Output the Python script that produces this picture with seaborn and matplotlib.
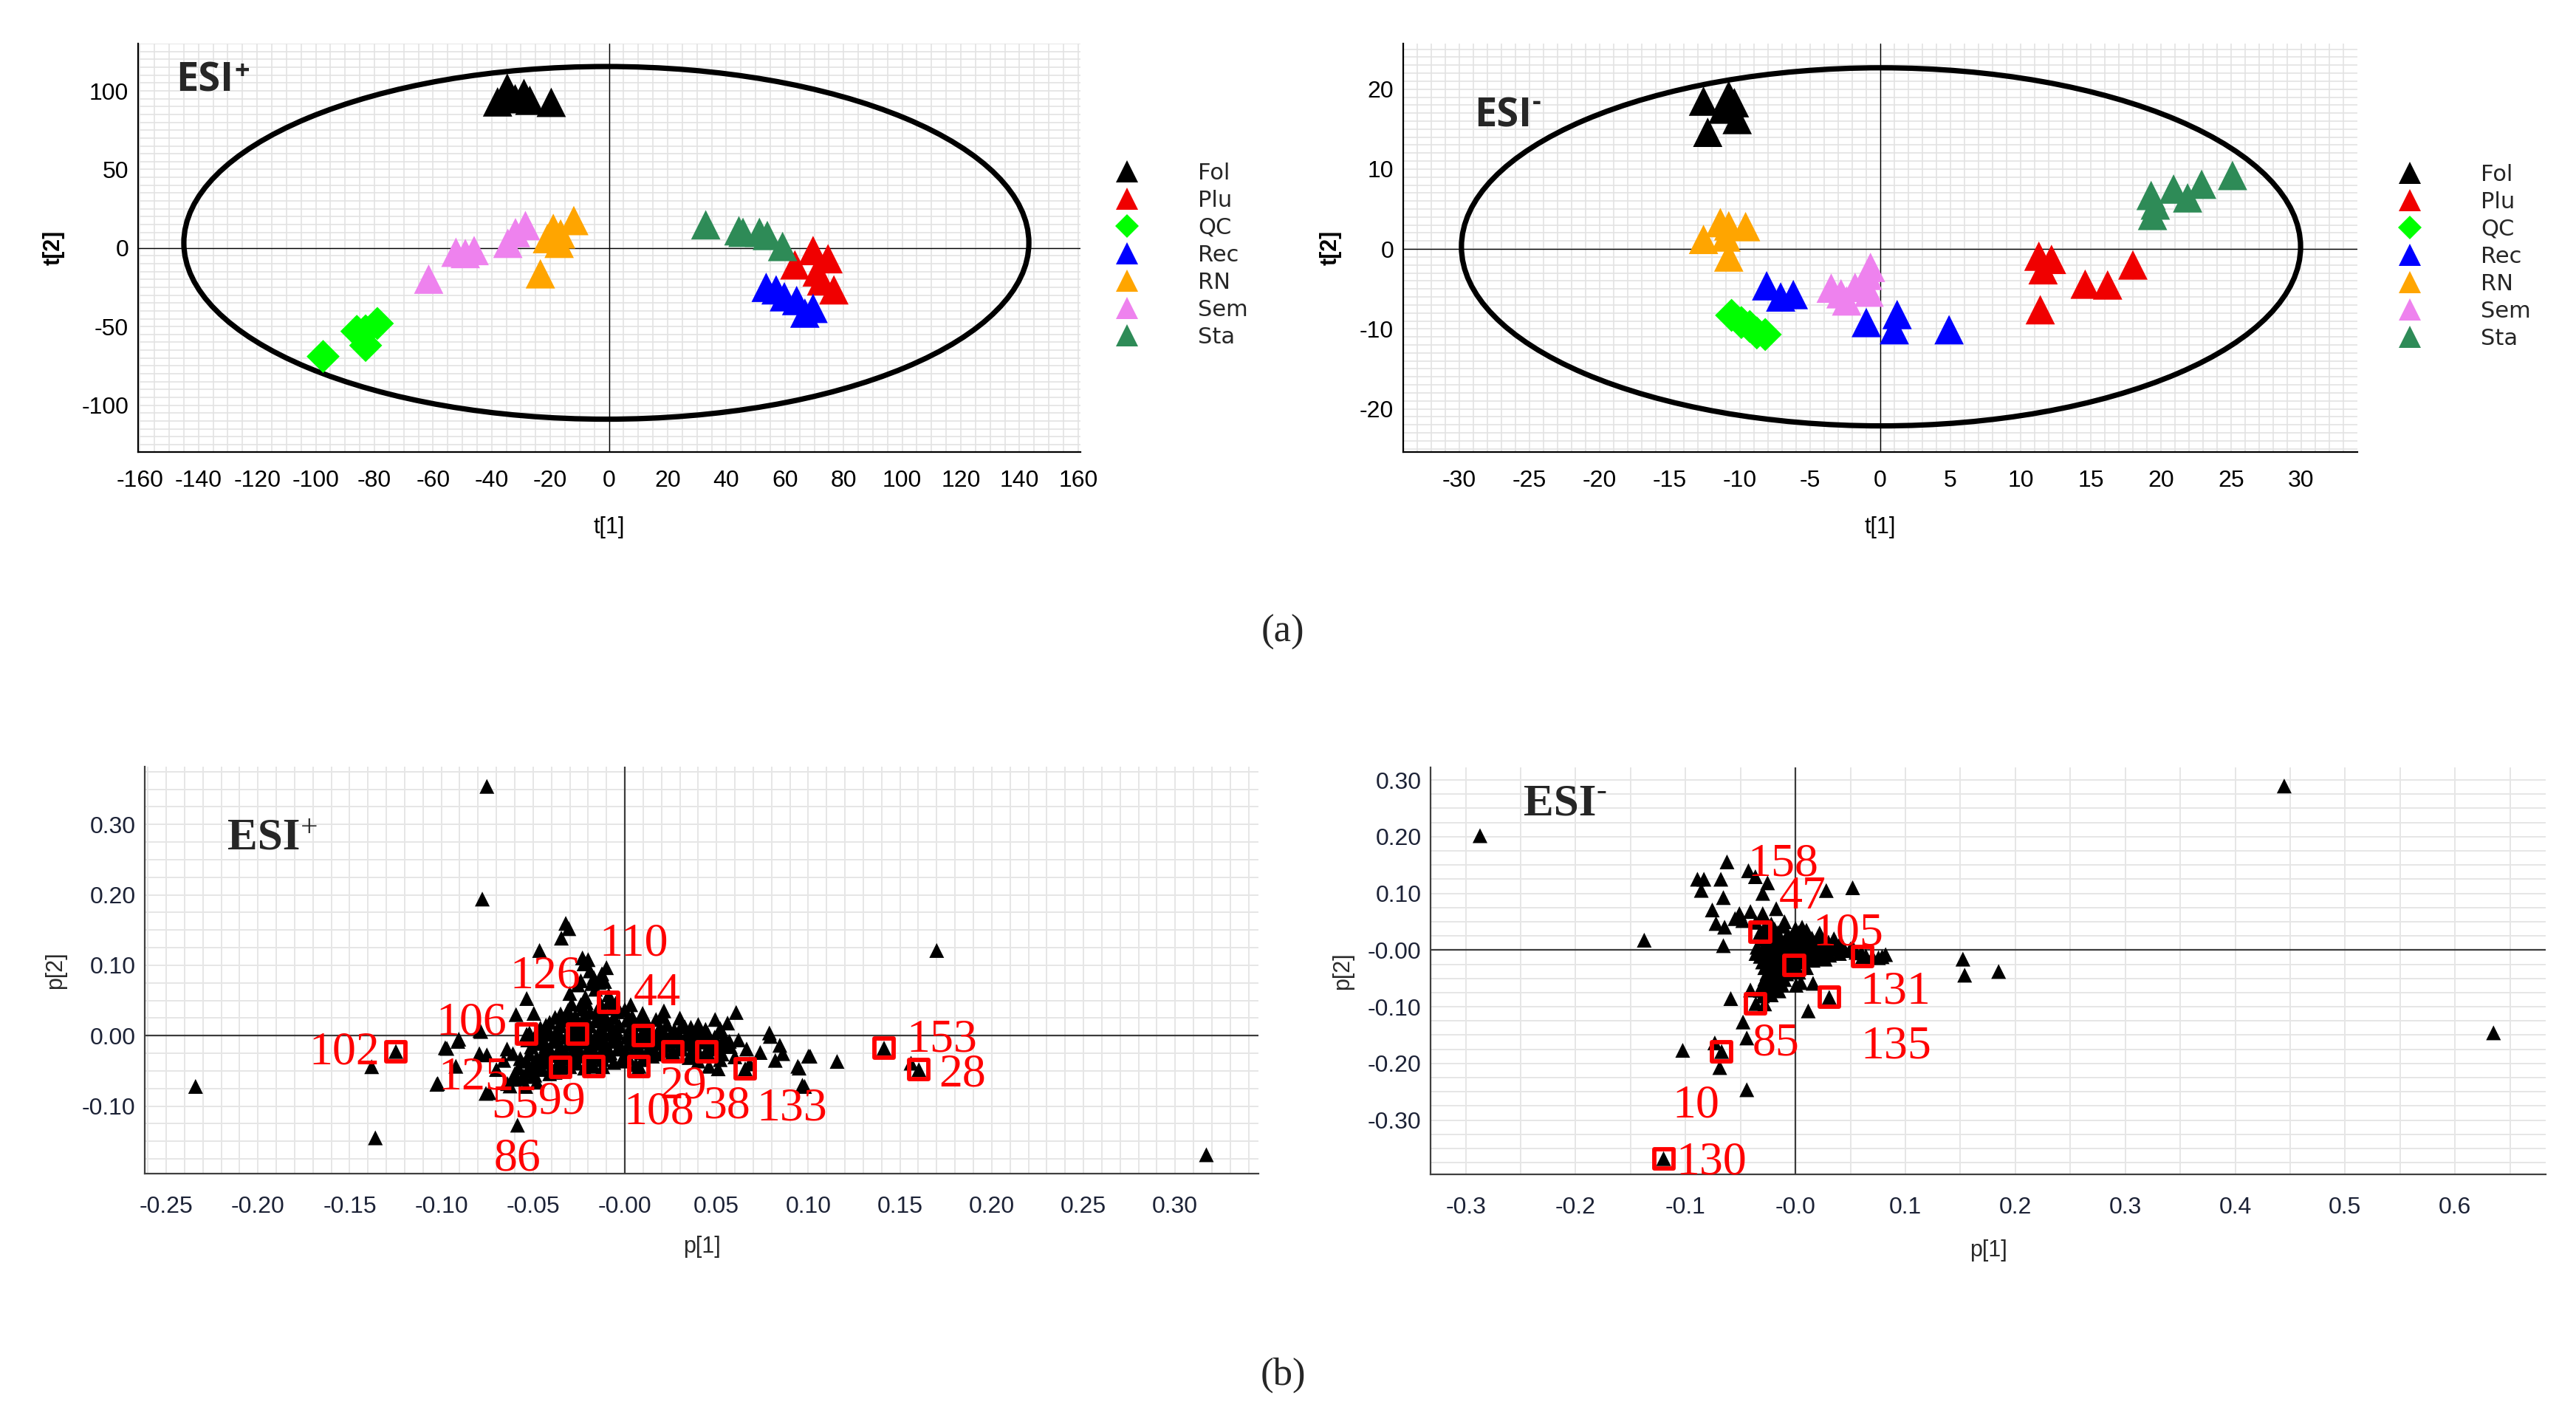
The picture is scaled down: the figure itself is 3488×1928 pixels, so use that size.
import numpy as np
import pandas as pd
import matplotlib
matplotlib.use("Agg")
import matplotlib.pyplot as plt
import seaborn as sns
from matplotlib.patches import Ellipse
from matplotlib.lines import Line2D

# ------------------------------------------------------------------ data
GROUPS = ["Fol", "Plu", "QC", "Rec", "RN", "Sem", "Sta"]
GROUP_COLORS = ["#000000", "#f00000", "#00ff00", "#0000ff", "#ffa500", "#ee82ee", "#2e8b57"]

# (a) ESI+ scores  (t[1], t[2])
pos_fol = [(-38.0, 93.0), (-35.5, 97.0), (-34.7, 101.8), (-32.0, 95.0), (-29.0, 98.4), (-27.0, 94.0), (-19.7, 92.7)]
pos_plu = [(69.6, -1.6), (74.7, -6.8), (63.4, -10.7), (71.0, -15.2), (72.5, -20.9), (76.7, -26.6)]
pos_qc = [(-97.5, -69.0), (-86.0, -53.0), (-83.0, -52.7), (-79.0, -48.0), (-83.0, -62.0)]
pos_rec = [(53.6, -25.0), (57.0, -26.6), (59.8, -31.0), (64.0, -33.4), (66.8, -41.4), (69.6, -38.4)]
pos_rn = [(-12.0, 17.5), (-19.0, 12.5), (-16.5, 9.0), (-21.0, 6.0), (-17.0, 3.0), (-23.4, -16.4)]
pos_sem = [(-28.5, 14.3), (-31.9, 9.8), (-34.5, 3.0), (-46.0, -1.6), (-49.0, -3.5), (-52.2, -2.7), (-61.5, -19.8)]
pos_sta = [(33.0, 14.8), (44.3, 11.0), (45.7, 10.0), (51.3, 10.0), (54.0, 8.0), (59.2, 1.0)]

# (a) ESI- scores
neg_fol = [(-12.6, 18.5), (-10.8, 19.2), (-10.4, 18.3), (-11.2, 17.5), (-10.2, 16.2), (-12.3, 14.6)]
neg_plu = [(11.3, -0.9), (12.2, -1.3), (11.6, -2.6), (14.6, -4.4), (16.2, -4.5), (18.0, -2.0), (11.4, -7.6)]
neg_qc = [(-10.6, -8.3), (-9.9, -9.2), (-9.3, -9.7), (-8.8, -10.5), (-8.2, -10.7)]
neg_rec = [(-8.1, -4.6), (-7.1, -6.0), (-6.2, -5.7), (-1.0, -9.2), (1.2, -8.2), (1.0, -10.1), (4.9, -10.1)]
neg_rn = [(-12.6, 1.2), (-11.4, 3.3), (-10.8, 2.9), (-9.6, 2.8), (-11.0, 1.5), (-10.8, -1.0)]
neg_sem = [(-0.7, -2.3), (-0.9, -3.3), (-3.5, -4.9), (-2.8, -5.6), (-1.8, -4.8), (-0.8, -5.4), (-2.4, -6.5)]
neg_sta = [(19.3, 6.7), (19.4, 4.2), (20.9, 7.5), (21.9, 6.4), (22.9, 8.1), (25.1, 9.2), (19.6, 5.5)]

# Hotelling T2 ellipses (centre x, centre y, semi-axis x, semi-axis y)
pos_ellipse = (-0.9, 3.3, 144.1, 112.2)
neg_ellipse = (0.05, 0.27, 29.9, 22.4)

# (b) ESI+ loadings (p[1], p[2])
pos_load = [
    (-0.0752, 0.354), (-0.0777, 0.194), (0.170, 0.121), (-0.234, -0.072), (-0.138, -0.044),
    (-0.136, -0.145), (0.317, -0.169), (-0.0585, -0.127), (-0.1025, -0.069), (-0.091, -0.008),
    (-0.097, -0.018), (-0.0785, 0.006), (0.1157, -0.0365), (0.101, -0.029), (0.095, -0.046),
    (0.098, -0.072), (0.0793, -0.001), (0.0607, 0.033), (0.156, -0.039), (-0.074, -0.081),
    (-0.0322, 0.1595), (-0.0305, 0.152), (-0.0346, 0.1385), (-0.0465, 0.121), (-0.0231, 0.1105),
    (-0.0200, 0.108), (-0.0223, 0.102), (-0.0100, 0.0966), (-0.0169, 0.0826), (-0.0256, 0.0721),
    (-0.0141, 0.0756), (-0.0215, 0.0546), (-0.0240, 0.0441), (-0.0088, 0.058), (-0.0190, 0.092),
    (-0.0125, 0.088), (-0.0160, 0.066), (-0.0300, 0.060),
    (-0.0535, 0.0528), (-0.0593, 0.030), (-0.0496, 0.0317), (-0.079, 0.0073), (-0.0905, -0.0049),
    (-0.0979, -0.0171), (-0.0793, -0.0255), (-0.0752, -0.0272), (-0.0642, -0.0189), (-0.061, -0.0255),
    (-0.057, -0.0325), (-0.0921, -0.0434), (-0.102, -0.0679), (-0.0757, -0.0819), (-0.0626, -0.0714),
    (-0.0553, -0.057), (-0.052, -0.044), (-0.0455, -0.037), (-0.066, -0.035), (-0.070, -0.048),
    (-0.060, -0.062), (-0.048, -0.066),
    (0.0032, 0.044), (0.0097, 0.0317), (0.0213, 0.0353), (0.0492, 0.0231), (0.0788, 0.0039),
    (0.0845, -0.0136), (0.0861, -0.0255), (0.1001, -0.029), (0.0943, -0.0434), (0.0968, -0.0703),
    (0.0664, -0.0189), (0.0738, -0.0238), (0.0575, -0.0155), (0.0327, 0.0126), (0.0393, 0.0021),
    (0.0459, -0.0434), (0.0509, -0.047), (0.0072, -0.047), (0.052, 0.010), (0.060, -0.030),
    (0.068, -0.040), (0.082, -0.035), (0.056, 0.018),
    (-0.035, 0.031), (-0.027, 0.028), (-0.019, 0.033), (-0.011, 0.029), (-0.004, 0.034), (0.004, 0.027),
    (-0.041, 0.019), (-0.033, 0.022), (-0.024, 0.018), (-0.016, 0.021), (-0.008, 0.017), (0.001, 0.022),
    (0.009, 0.019), (0.017, 0.023),
    (-0.046, 0.011), (-0.037, 0.008), (-0.029, 0.012), (-0.021, 0.009), (-0.013, 0.011), (-0.005, 0.008),
    (0.003, 0.012), (0.011, 0.009), (0.019, 0.011), (0.027, 0.008), (0.036, 0.012), (0.044, 0.009),
    (-0.049, -0.001), (-0.041, 0.002), (-0.032, -0.002), (-0.024, 0.001), (-0.016, -0.001), (-0.008, 0.002),
    (0.001, -0.002), (0.009, 0.001), (0.017, -0.001), (0.025, 0.002), (0.033, -0.002), (0.041, 0.001),
    (0.049, -0.002),
    (-0.047, -0.011), (-0.039, -0.008), (-0.031, -0.012), (-0.023, -0.009), (-0.015, -0.011), (-0.007, -0.008),
    (0.002, -0.012), (0.010, -0.009), (0.018, -0.011), (0.026, -0.008), (0.034, -0.012), (0.042, -0.009),
    (0.050, -0.011), (0.057, -0.008),
    (-0.044, -0.021), (-0.036, -0.019), (-0.028, -0.022), (-0.020, -0.018), (-0.012, -0.021), (-0.004, -0.019),
    (0.005, -0.022), (0.013, -0.018), (0.021, -0.021), (0.031, -0.019), (0.040, -0.022), (0.049, -0.019),
    (-0.048, -0.031), (-0.040, -0.028), (-0.032, -0.032), (-0.024, -0.029), (-0.016, -0.031), (-0.008, -0.028),
    (0.002, -0.032), (0.015, -0.029), (0.035, -0.031), (0.046, -0.028),
    (-0.050, -0.041), (-0.042, -0.038), (-0.034, -0.042), (-0.026, -0.039), (-0.018, -0.041), (-0.006, -0.038),
    (0.006, -0.041), (-0.053, -0.051), (-0.045, -0.048), (-0.038, -0.052), (-0.056, -0.061), (-0.050, -0.058),
    (-0.031, 0.036), (-0.023, 0.038), (-0.015, 0.036), (-0.007, 0.039), (0.000, 0.037),
    (-0.029, 0.045), (-0.021, 0.047), (-0.013, 0.044), (-0.005, 0.046),
    (-0.024, 0.078), (-0.018, 0.074), (-0.011, 0.077),
    (-0.038, 0.026), (-0.030, 0.024), (-0.022, 0.026), (-0.014, 0.024), (-0.006, 0.026), (0.002, 0.024),
    (0.010, 0.026), (0.021, 0.027), (0.030, 0.025),
    (-0.043, 0.015), (-0.035, 0.014), (-0.027, 0.016), (-0.019, 0.014), (-0.011, 0.016), (-0.003, 0.014),
    (0.005, 0.016), (0.013, 0.014), (0.023, 0.016), (0.031, 0.014), (0.040, 0.016),
    (-0.052, 0.004), (-0.044, 0.006), (-0.036, 0.004), (-0.028, 0.006), (-0.020, 0.004), (-0.012, 0.006),
    (-0.004, 0.004), (0.005, 0.006), (0.013, 0.004), (0.021, 0.006), (0.029, 0.004), (0.037, 0.006),
    (0.045, 0.004), (0.053, 0.005),
    (-0.053, -0.006), (-0.045, -0.004), (-0.037, -0.006), (-0.028, -0.004), (-0.020, -0.006), (-0.012, -0.004),
    (-0.004, -0.006), (0.005, -0.004), (0.013, -0.006), (0.021, -0.004), (0.029, -0.006), (0.037, -0.004),
    (0.045, -0.006), (0.054, -0.004), (0.062, -0.006),
    (-0.051, -0.016), (-0.043, -0.014), (-0.035, -0.016), (-0.027, -0.014), (-0.019, -0.016), (-0.011, -0.014),
    (-0.003, -0.016), (0.006, -0.014), (0.014, -0.016), (0.022, -0.014), (0.030, -0.016), (0.038, -0.014),
    (0.046, -0.016), (0.054, -0.014),
    (-0.052, -0.026), (-0.040, -0.024), (-0.032, -0.026), (-0.024, -0.024), (-0.016, -0.026), (-0.008, -0.024),
    (0.001, -0.026), (0.009, -0.024), (0.017, -0.026), (0.026, -0.024), (0.036, -0.026), (0.044, -0.024),
    (0.053, -0.026),
    (-0.054, -0.036), (-0.044, -0.034), (-0.036, -0.036), (-0.028, -0.034), (-0.020, -0.036), (-0.012, -0.034),
    (-0.002, -0.036), (0.010, -0.034), (0.040, -0.036), (0.052, -0.034),
    (-0.058, -0.046), (-0.048, -0.044), (-0.040, -0.046), (-0.030, -0.044), (-0.022, -0.046), (-0.012, -0.044),
    (-0.060, -0.054), (-0.049, -0.056), (-0.041, -0.054), (-0.064, -0.068), (-0.054, -0.072),
]
pos_sel = [(-0.1248, -0.0224), (-0.0535, 0.0021), (-0.0259, 0.0021), (-0.0087, 0.0476), (0.0102, 0.0004),
           (0.0262, -0.0224), (0.0446, -0.0224), (-0.0350, -0.0451), (-0.0170, -0.0434), (0.0078, -0.0434),
           (0.0656, -0.0469), (0.1413, -0.0176), (0.1603, -0.0482)]
pos_lab_text = ["102", "106", "126", "110", "44", "125", "55", "99", "29", "108", "38", "133", "153", "28", "86"]
pos_lab_xy = [(-0.153, -0.0167), (-0.0835, 0.0247), (-0.0434, 0.0906), (0.005, 0.1376), (0.0174, 0.0661),
              (-0.0826, -0.0529), (-0.0599, -0.0930), (-0.0343, -0.0870), (0.0318, -0.0650), (0.0186, -0.1020),
              (0.0558, -0.0935), (0.0909, -0.0970), (0.1727, 0.0012), (0.184, -0.0482), (-0.0587, -0.1682)]

# (b) ESI- loadings
neg_load = [
    (-0.287, 0.2018), (-0.1376, 0.0175), (0.4446, 0.2895), (0.635, -0.146), (0.1523, -0.016),
    (0.1539, -0.0443), (0.1848, -0.0378), (0.052, 0.110), (0.028, 0.105), (-0.1026, -0.1769),
    (-0.0443, -0.2464), (0.0116, -0.1073), (0.0788, -0.0117), (0.0755, -0.0135), (-0.0689, -0.2073),
    (-0.0734, -0.1638), (-0.0443, -0.1551), (-0.0477, -0.1269), (-0.0589, -0.0856), (-0.041, -0.0704),
    (0.0049, -0.0574), (0.016, -0.0587), (0.0006, -0.062),
    (-0.0623, 0.1556), (-0.0428, 0.140), (-0.0892, 0.125), (-0.0833, 0.125), (-0.0679, 0.125),
    (-0.0857, 0.1053), (-0.0365, 0.1295), (-0.0254, 0.1186), (-0.0298, 0.100), (-0.0656, 0.0926),
    (-0.0757, 0.0708), (-0.051, 0.0643), (-0.041, 0.068), (-0.0298, 0.0643), (-0.0175, 0.073),
    (-0.0723, 0.0469), (-0.0645, 0.0404), (-0.055, 0.0555), (-0.0656, 0.0078), (0.006, 0.0404),
    (-0.048, 0.052), (-0.036, 0.049), (-0.022, 0.046), (-0.010, 0.050),
    (-0.028, 0.040), (-0.019, 0.037), (-0.011, 0.042), (0.000, 0.038), (0.010, 0.035),
    (-0.025, 0.029), (-0.016, 0.031), (-0.007, 0.028), (0.003, 0.031), (0.012, 0.027), (0.022, 0.030),
    (-0.030, 0.019), (-0.021, 0.021), (-0.013, 0.018), (-0.004, 0.022), (0.006, 0.019), (0.015, 0.021),
    (0.025, 0.018), (0.035, 0.020),
    (-0.027, 0.009), (-0.018, 0.011), (-0.009, 0.008), (-0.001, 0.011), (0.008, 0.009), (0.018, 0.011),
    (0.028, 0.008), (0.040, 0.010),
    (-0.030, -0.001), (-0.021, 0.001), (-0.012, -0.002), (-0.003, 0.001), (0.006, -0.001), (0.016, 0.002),
    (0.026, -0.002), (0.036, 0.001), (0.045, -0.001),
    (-0.032, -0.011), (-0.023, -0.009), (-0.014, -0.012), (-0.005, -0.009), (0.004, -0.011), (0.013, -0.008),
    (0.022, -0.012), (0.031, -0.009),
    (-0.030, -0.021), (-0.021, -0.019), (-0.012, -0.022), (-0.003, -0.019), (0.006, -0.021), (0.016, -0.018),
    (-0.028, -0.031), (-0.019, -0.029), (-0.010, -0.032), (-0.001, -0.029), (0.010, -0.031),
    (-0.026, -0.041), (-0.017, -0.039), (-0.008, -0.042), (0.003, -0.039),
    (-0.028, -0.051), (-0.019, -0.049), (-0.010, -0.052),
    (-0.030, -0.061), (-0.021, -0.059), (-0.012, -0.062),
    (-0.032, -0.071), (-0.023, -0.069), (-0.015, -0.072),
    (-0.030, -0.081), (-0.022, -0.079), (-0.028, -0.095),
    (0.050, 0.002), (0.060, -0.005), (0.064, -0.010), (0.070, -0.012), (0.082, -0.008),
    (-0.035, 0.005), (-0.025, 0.004), (-0.015, 0.006), (-0.006, 0.004), (0.004, 0.006), (0.013, 0.004),
    (0.023, 0.006), (0.033, 0.004), (0.043, 0.006), (0.052, 0.005),
    (-0.036, -0.006), (-0.027, -0.004), (-0.018, -0.006), (-0.008, -0.004), (0.001, -0.006), (0.010, -0.004),
    (0.020, -0.006), (0.030, -0.004), (0.040, -0.006), (0.055, -0.004),
    (-0.026, 0.015), (-0.017, 0.016), (-0.008, 0.014), (0.001, 0.016), (0.011, 0.014), (0.020, 0.016),
    (0.030, 0.014),
    (-0.027, -0.016), (-0.018, -0.014), (-0.009, -0.016), (0.000, -0.014), (0.009, -0.016), (0.019, -0.014),
    (0.027, -0.016),
    (-0.024, -0.036), (-0.014, -0.034), (-0.004, -0.036), (-0.024, -0.046), (-0.014, -0.044),
    (-0.026, -0.056), (-0.016, -0.054), (-0.027, -0.066), (-0.018, -0.064),
]
neg_sel = [(-0.032, 0.0317), (-0.0011, -0.027), (0.0307, -0.0834), (-0.0361, -0.0943), (-0.0672, -0.179),
           (0.061, -0.0117), (-0.120, -0.368)]
neg_lab_text = ["158", "47", "105", "131", "135", "85", "10", "130"]
neg_lab_xy = [(-0.0114, 0.160), (0.0067, 0.1017), (0.048, 0.038), (0.0907, -0.065), (0.0917, -0.1617),
              (-0.0177, -0.156), (-0.0905, -0.266), (-0.0763, -0.366)]

# tick values / labels
pos_score_xticks = list(range(-160, 161, 20))
pos_score_xminor = list(range(-150, 151, 20))
pos_score_yticks = [-100, -50, 0, 50, 100]
pos_score_yminor = [-125, -75, -25, 25, 75, 125]
neg_score_xticks = list(range(-30, 31, 5))
neg_score_xminor = [-32.5, -27.5, -22.5, -17.5, -12.5, -7.5, -2.5, 2.5, 7.5, 12.5, 17.5, 22.5, 27.5, 32.5]
neg_score_yticks = [-20, -10, 0, 10, 20]
neg_score_yminor = [-25, -15, -5, 5, 15, 25]
pos_load_xticks = [-0.25, -0.20, -0.15, -0.10, -0.05, 0.0, 0.05, 0.10, 0.15, 0.20, 0.25, 0.30]
pos_load_xlabels = ["-0.25", "-0.20", "-0.15", "-0.10", "-0.05", "-0.00", "0.05", "0.10", "0.15", "0.20", "0.25", "0.30"]
pos_load_xminor = [-0.225, -0.175, -0.125, -0.075, -0.025, 0.025, 0.075, 0.125, 0.175, 0.225, 0.275, 0.325]
pos_load_yticks = [-0.10, 0.0, 0.10, 0.20, 0.30]
pos_load_ylabels = ["-0.10", "0.00", "0.10", "0.20", "0.30"]
pos_load_yminor = [-0.15, -0.05, 0.05, 0.15, 0.25, 0.35]
neg_load_xticks = [-0.3, -0.2, -0.1, 0.0, 0.1, 0.2, 0.3, 0.4, 0.5, 0.6]
neg_load_xlabels = ["-0.3", "-0.2", "-0.1", "-0.0", "0.1", "0.2", "0.3", "0.4", "0.5", "0.6"]
neg_load_xminor = [-0.25, -0.15, -0.05, 0.05, 0.15, 0.25, 0.35, 0.45, 0.55, 0.65]
neg_load_yticks = [-0.30, -0.20, -0.10, 0.0, 0.10, 0.20, 0.30]
neg_load_ylabels = ["-0.30", "-0.20", "-0.10", "-0.00", "0.10", "0.20", "0.30"]
neg_load_yminor = [-0.35, -0.25, -0.15, -0.05, 0.05, 0.15, 0.25]

# ------------------------------------------------------------------ style
W, H, DPI = 3488, 1928, 200
sns.set_style("white")
plt.rcParams["font.family"] = ["Liberation Sans", "DejaVu Sans"]
plt.rcParams["axes.linewidth"] = 0.8

fig = plt.figure(figsize=(W / DPI, H / DPI), dpi=DPI)
fig.patch.set_facecolor("white")


def add_axes_px(left, top, right, bottom):
    return fig.add_axes([left / W, 1 - bottom / H, (right - left) / W, (bottom - top) / H])


def draw_grid(ax, xlim, ylim, xstep, ystep, color, lw):
    gx = np.arange(np.ceil(xlim[0] / xstep) * xstep, xlim[1], xstep)
    gy = np.arange(np.ceil(ylim[0] / ystep) * ystep, ylim[1], ystep)
    ax.vlines(gx, ylim[0], ylim[1], colors=color, lw=lw, zorder=0)
    ax.hlines(gy, xlim[0], xlim[1], colors=color, lw=lw, zorder=0)


def style_axes(ax, xlim, ylim, xt, xtl, xmin, yt, ytl, ymin, spine_color, label_color, xpad, ypad):
    ax.set_xlim(xlim)
    ax.set_ylim(ylim)
    ax.set_xticks(xt, labels=xtl)
    ax.set_xticks(xmin, minor=True)
    ax.set_yticks(yt, labels=ytl)
    ax.set_yticks(ymin, minor=True)
    for s in ("top", "right"):
        ax.spines[s].set_visible(False)
    for s in ("left", "bottom"):
        ax.spines[s].set_color(spine_color)
        ax.spines[s].set_linewidth(0.8)
        ax.spines[s].set_zorder(5)
    ax.tick_params(which="both", direction="inout", length=5.6, width=0.7, color=spine_color,
                   labelsize=11.5, labelcolor=label_color)
    ax.tick_params(axis="x", which="both", pad=xpad)
    ax.tick_params(axis="y", which="both", pad=ypad)
    ax.grid(False)
    ax.set_facecolor("white")


def set_labels(ax, xlabel, ylabel, xpos, ypos, color, yweight="normal"):
    ax.set_xlabel(xlabel, fontsize=11, color=color)
    ax.set_ylabel(ylabel, fontsize=11, color=color, fontweight=yweight)
    ax.xaxis.set_label_coords(0.5, xpos)
    ax.yaxis.set_label_coords(ypos, 0.5)
    ax.xaxis.label.set_va("center")
    ax.yaxis.label.set_va("center")


def score_panel(ax, groups, ellipse, xlim, ylim, gstep, xt, xmin, yt, ymin):
    draw_grid(ax, xlim, ylim, gstep[0], gstep[1], "#e3e3e3", 0.6)
    ax.axhline(0, color="black", lw=0.5, zorder=1)
    ax.axvline(0, color="black", lw=0.5, zorder=1)
    cx, cy, a, b = ellipse
    ax.add_patch(Ellipse((cx, cy), 2 * a, 2 * b, fill=False, ec="black", lw=2.6, zorder=2))
    for name, color in zip(GROUPS, GROUP_COLORS):
        pts = np.array(groups[name])
        df = pd.DataFrame({"t1": pts[:, 0], "t2": pts[:, 1]})
        if name == "QC":
            sns.scatterplot(data=df, x="t1", y="t2", ax=ax, color=color, marker="D", s=130,
                            edgecolor="none", linewidth=0, legend=False, zorder=3)
        else:
            sns.scatterplot(data=df, x="t1", y="t2", ax=ax, color=color, marker="^", s=205,
                            edgecolor="none", linewidth=0, legend=False, zorder=3)
    style_axes(ax, xlim, ylim, xt, [str(v) for v in xt], xmin, yt, [str(v) for v in yt], ymin,
               "black", "black", 5.8, 1.8)


def add_legend(ax, x_px, top_px):
    handles = []
    for name, color in zip(GROUPS, GROUP_COLORS):
        if name == "QC":
            handles.append(Line2D([], [], ls="none", marker="D", color=color, markersize=8.1, mew=0))
        else:
            handles.append(Line2D([], [], ls="none", marker="^", color=color, markersize=10.8, mew=0))
    ax.legend(handles=handles, labels=GROUPS, loc="upper left",
              bbox_to_anchor=(x_px / W, 1 - top_px / H), bbox_transform=fig.transFigure,
              frameon=False, prop={"family": "DejaVu Sans", "size": 11},
              handlelength=2.0, handletextpad=2.15, labelspacing=0.26,
              borderaxespad=0, borderpad=0)


def loading_panel(ax, load, sel, lab_text, lab_xy, xlim, ylim, gstep):
    draw_grid(ax, xlim, ylim, gstep[0], gstep[1], "#e6e6e6", 0.7)
    ax.axhline(0, color="#3c3c3c", lw=0.8, zorder=1)
    ax.axvline(0, color="#3c3c3c", lw=0.8, zorder=1)
    pts = np.vstack([np.array(load), np.array(sel)])
    sns.scatterplot(x=pts[:, 0], y=pts[:, 1], ax=ax, color="black", marker="^", s=52,
                    edgecolor="none", linewidth=0, legend=False, zorder=3)
    sp = np.array(sel)
    sns.scatterplot(x=sp[:, 0], y=sp[:, 1], ax=ax, color="red", marker="s", s=88,
                    facecolor="none", edgecolor="#ff0000", linewidth=2.1, legend=False, zorder=4)
    for t, (x, y) in zip(lab_text, lab_xy):
        ax.text(x, y, t, color="#ff0000", fontsize=23, family=["Liberation Serif", "DejaVu Serif"],
                ha="center", va="center_baseline", zorder=6)


# ------------------------------------------------------------------ panels
ax1 = add_axes_px(187, 59, 1463, 612)
ax2 = add_axes_px(1900, 59, 3192, 612)
ax3 = add_axes_px(196, 1038, 1704, 1589)
ax4 = add_axes_px(1937, 1039, 3447, 1590)

pos_groups = dict(zip(GROUPS, [pos_fol, pos_plu, pos_qc, pos_rec, pos_rn, pos_sem, pos_sta]))
neg_groups = dict(zip(GROUPS, [neg_fol, neg_plu, neg_qc, neg_rec, neg_rn, neg_sem, neg_sta]))

score_panel(ax1, pos_groups, pos_ellipse, (-160.6, 160.8), (-129.8, 130.1), (5, 5),
            pos_score_xticks, pos_score_xminor, pos_score_yticks, pos_score_yminor)
score_panel(ax2, neg_groups, neg_ellipse, (-34.0, 34.0), (-25.4, 25.7), (1, 1),
            neg_score_xticks, neg_score_xminor, neg_score_yticks, neg_score_yminor)
set_labels(ax1, "t[1]", "t[2]", (612 - 714) / 553, (73 - 187) / 1276, "black", "bold")
set_labels(ax2, "t[1]", "t[2]", (612 - 714) / 553, (1802 - 1900) / 1292, "black", "bold")
add_legend(ax1, 1495, 220)
add_legend(ax2, 3232, 222)

loading_panel(ax3, pos_load, pos_sel, pos_lab_text, pos_lab_xy, (-0.2617, 0.3454), (-0.1958, 0.382),
              (0.01, 0.025))
style_axes(ax3, (-0.2617, 0.3454), (-0.1958, 0.382), pos_load_xticks, pos_load_xlabels, pos_load_xminor,
           pos_load_yticks, pos_load_ylabels, pos_load_yminor, "#404040", "#1c2236", 8.0, 1.7)
loading_panel(ax4, neg_load, neg_sel, neg_lab_text, neg_lab_xy, (-0.332, 0.6825), (-0.3957, 0.3223),
              (0.05, 0.025))
style_axes(ax4, (-0.332, 0.6825), (-0.3957, 0.3223), neg_load_xticks, neg_load_xlabels, neg_load_xminor,
           neg_load_yticks, neg_load_ylabels, neg_load_yminor, "#404040", "#1c2236", 8.0, 1.7)
set_labels(ax3, "p[1]", "p[2]", (1589 - 1688) / 551, (75 - 196) / 1508, "#2a2a2a")
set_labels(ax4, "p[1]", "p[2]", (1590 - 1693) / 551, (1818 - 1937) / 1510, "#2a2a2a")

# ------------------------------------------------------------------ annotations
renderer = fig.canvas.get_renderer()


def esi_label(x_px, base_px, sup, family, weight, size, sup_size, sup_weight, rise_px, gap_px):
    t = fig.text(x_px / W, 1 - base_px / H, "ESI", family=family, fontweight=weight,
                 fontsize=size, va="baseline", ha="left")
    bb = t.get_window_extent(renderer=renderer)
    fig.text((bb.x1 + gap_px) / W, (H - base_px + rise_px) / H, sup, family=family,
             fontweight=sup_weight, fontsize=sup_size, va="baseline", ha="left")


esi_label(238, 123, "+", ["Open Sans", "DejaVu Sans"], "bold", 19.5, 13, "bold", 16, 1)
esi_label(1996, 171, "-", ["Open Sans", "DejaVu Sans"], "bold", 19.5, 13, "bold", 23, 1)
esi_label(308, 1149, "+", ["Liberation Serif", "DejaVu Serif"], "bold", 22, 15, "normal", 17, 0)
esi_label(2063, 1103, "-", ["Liberation Serif", "DejaVu Serif"], "bold", 22, 15, "normal", 21, 0)

fig.text(1737 / W, 1 - 856 / H, "(a)", family=["Liberation Serif", "DejaVu Serif"], fontsize=19,
         ha="center", va="center")
fig.text(1737 / W, 1 - 1862 / H, "(b)", family=["Liberation Serif", "DejaVu Serif"], fontsize=19,
         ha="center", va="center")

fig.savefig("out.png", dpi=DPI, facecolor="white")
